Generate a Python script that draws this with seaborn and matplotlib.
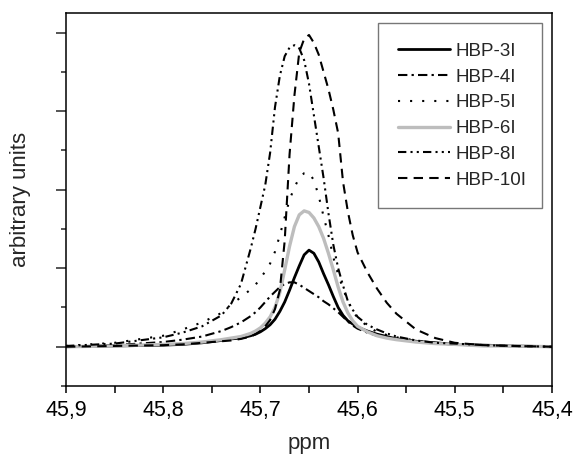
import numpy as np
import pandas as pd
import seaborn as sns
import matplotlib
matplotlib.use("Agg")
import matplotlib.pyplot as plt
from matplotlib.ticker import MultipleLocator, FuncFormatter

ppm = [45.90, 45.85, 45.80, 45.78, 45.76, 45.74, 45.73, 45.72, 45.71, 45.705, 45.70,
       45.695, 45.69, 45.685, 45.68, 45.675, 45.67, 45.665, 45.66, 45.655, 45.65,
       45.645, 45.64, 45.635, 45.63, 45.625, 45.62, 45.615, 45.61, 45.605, 45.60,
       45.59, 45.58, 45.57, 45.56, 45.54, 45.52, 45.50, 45.47, 45.44, 45.40]

hbp_3i = [0.00, 0.01, 0.02, 0.03, 0.05, 0.08, 0.10, 0.11, 0.14, 0.16, 0.19,
          0.23, 0.28, 0.35, 0.45, 0.57, 0.72, 0.88, 1.03, 1.17, 1.23,
          1.19, 1.08, 0.93, 0.79, 0.64, 0.50, 0.40, 0.33, 0.29, 0.25,
          0.20, 0.16, 0.13, 0.10, 0.07, 0.05, 0.03, 0.02, 0.01, 0.00]
hbp_4i = [0.00, 0.02, 0.06, 0.09, 0.13, 0.20, 0.25, 0.31, 0.39, 0.44, 0.50,
          0.57, 0.64, 0.70, 0.76, 0.80, 0.82, 0.82, 0.79, 0.75, 0.71,
          0.67, 0.63, 0.58, 0.54, 0.49, 0.44, 0.38, 0.32, 0.27, 0.23,
          0.18, 0.14, 0.12, 0.10, 0.07, 0.05, 0.03, 0.02, 0.01, 0.00]
hbp_5i = [0.01, 0.05, 0.14, 0.22, 0.31, 0.43, 0.54, 0.63, 0.73, 0.79, 0.87,
          0.96, 1.06, 1.21, 1.42, 1.65, 1.87, 2.03, 2.15, 2.21, 2.22,
          2.12, 1.92, 1.66, 1.42, 1.14, 0.92, 0.74, 0.58, 0.45, 0.37,
          0.26, 0.19, 0.15, 0.12, 0.08, 0.05, 0.04, 0.02, 0.01, 0.00]
hbp_6i = [0.00, 0.01, 0.03, 0.04, 0.06, 0.09, 0.11, 0.13, 0.17, 0.20, 0.24,
          0.30, 0.38, 0.50, 0.69, 0.98, 1.28, 1.53, 1.68, 1.73, 1.71,
          1.64, 1.53, 1.38, 1.19, 0.98, 0.76, 0.57, 0.43, 0.33, 0.26,
          0.19, 0.14, 0.11, 0.09, 0.06, 0.04, 0.03, 0.01, 0.01, 0.00]
hbp_8i = [0.01, 0.04, 0.12, 0.18, 0.26, 0.40, 0.55, 0.80, 1.25, 1.50, 1.78,
          2.06, 2.47, 3.05, 3.45, 3.70, 3.81, 3.84, 3.80, 3.65, 3.35,
          2.95, 2.55, 2.15, 1.70, 1.30, 1.00, 0.78, 0.58, 0.47, 0.38,
          0.28, 0.22, 0.17, 0.13, 0.08, 0.05, 0.04, 0.02, 0.01, 0.00]
hbp_10i = [0.00, 0.01, 0.02, 0.03, 0.05, 0.07, 0.08, 0.10, 0.13, 0.16, 0.20,
           0.26, 0.34, 0.48, 0.72, 1.35, 2.45, 3.20, 3.75, 3.92, 3.97,
           3.87, 3.72, 3.50, 3.28, 3.02, 2.72, 2.10, 1.72, 1.42, 1.20,
           0.95, 0.74, 0.56, 0.42, 0.22, 0.11, 0.05, 0.02, 0.01, 0.00]

labels = ["HBP-3I", "HBP-4I", "HBP-5I", "HBP-6I", "HBP-8I", "HBP-10I"]
series = [hbp_3i, hbp_4i, hbp_5i, hbp_6i, hbp_8i, hbp_10i]

styles = {
    "HBP-3I": dict(color="black", lw=2.0, linestyle="-"),
    "HBP-4I": dict(color="black", lw=1.5, linestyle=(0, (4.5, 2.0, 1.1, 2.0))),
    "HBP-5I": dict(color="black", lw=1.5, linestyle=(0, (1.0, 4.8))),
    "HBP-6I": dict(color="#bdbdbd", lw=2.4, linestyle="-"),
    "HBP-8I": dict(color="black", lw=1.5, linestyle=(0, (4.0, 2.0, 1.0, 2.0, 1.0, 2.0))),
    "HBP-10I": dict(color="black", lw=1.5, linestyle=(0, (4.5, 3.0))),
}

sns.set_style("white")
plt.rcParams["font.family"] = ["Liberation Sans", "DejaVu Sans"]

fig = plt.figure(figsize=(5.74, 4.57), dpi=100)
ax = fig.add_axes([66 / 574, 1 - 386 / 457, (552 - 66) / 574, (386 - 13) / 457])

for lab, vals in zip(labels, series):
    df = pd.DataFrame({"ppm": ppm, "y": vals})
    sns.lineplot(data=df, x="ppm", y="y", ax=ax, label=lab, sort=False, **styles[lab])

ax.set_xlim(45.9, 45.4)
ax.set_ylim(-0.5, 4.25)
ax.xaxis.set_major_locator(MultipleLocator(0.1))
ax.xaxis.set_minor_locator(MultipleLocator(0.05))
ax.yaxis.set_major_locator(MultipleLocator(1.0))
ax.yaxis.set_minor_locator(MultipleLocator(0.5))
ax.xaxis.set_major_formatter(FuncFormatter(lambda v, p: f"{v:.1f}".replace(".", ",")))
ax.set_yticklabels([])
ax.tick_params(axis="x", which="both", direction="out", length=5, width=1.1,
               bottom=True, labelsize=15.5, pad=5, colors="black")
ax.tick_params(axis="y", which="major", direction="out", length=7, width=1.1, left=True)
ax.tick_params(axis="y", which="minor", direction="out", length=3.5, width=1.1, left=True)
for s in ax.spines.values():
    s.set_color("black")
    s.set_linewidth(1.1)

ax.set_xlabel("ppm", fontsize=16, labelpad=9)
ax.set_ylabel("arbitrary units", fontsize=16, labelpad=15)

leg = ax.legend(loc="upper left", bbox_to_anchor=(0.642, 0.973, 0.337, 0.0),
                mode="expand", frameon=True, fancybox=False, fontsize=13.5,
                handlelength=2.8, handletextpad=0.3, labelspacing=0.46,
                borderpad=1.05, borderaxespad=0)
leg.get_frame().set_edgecolor("#555555")
leg.get_frame().set_linewidth(1.0)

fig.savefig("out.png", dpi=100)
